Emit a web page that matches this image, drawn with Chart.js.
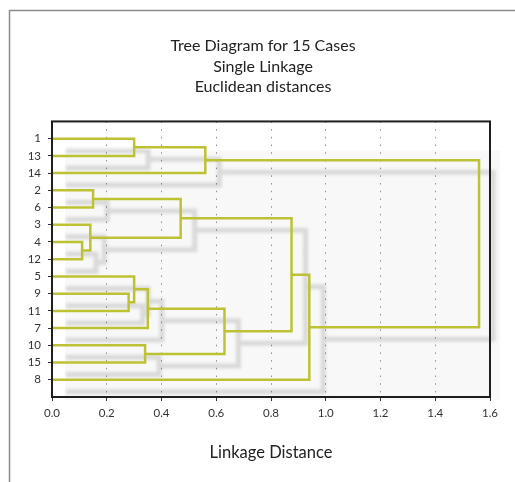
<!DOCTYPE html>
<html>
<head>
<meta charset="utf-8">
<script src="https://cdn.jsdelivr.net/npm/chart.js@4/dist/chart.umd.min.js"></script>
<style>
  html, body { margin: 0; padding: 0; background: #ffffff; }
  #wrap { width: 515px; height: 482px; position: relative; }
  canvas { display: block; background: #ffffff; }
</style>
</head>
<body>
<div id="wrap"><canvas id="c" width="515" height="482"></canvas></div>
<script>
// ---- Data ----
// Leaves in the order they appear from top to bottom
const caseLabels = ["1", "13", "14", "2", "6", "3", "4", "12", "5", "9", "11", "7", "10", "15", "8"];
// Merge steps: node ids 0..14 are leaves (display order), merge k creates node 15 + k
const mergeLeft     = [6, 5, 3, 9, 0, 8, 12, 20, 17, 19, 22, 23, 26, 24];
const mergeRight    = [7, 15, 4, 10, 1, 18, 13, 11, 16, 2, 21, 25, 14, 27];
const mergeDistance = [0.11, 0.14, 0.15, 0.28, 0.30, 0.30, 0.34, 0.35, 0.47, 0.56, 0.63, 0.875, 0.94, 1.56];
const xTickValues   = [0.0, 0.2, 0.4, 0.6, 0.8, 1.0, 1.2, 1.4, 1.6];
const titleLines    = ["Tree Diagram for 15 Cases", "Single Linkage", "Euclidean distances"];
const xAxisTitle    = "Linkage Distance";

// ---- Build dendrogram link datasets ----
const nodeY = caseLabels.map((_, i) => i + 1);
const nodeH = caseLabels.map(() => 0);
const datasets = [];
mergeDistance.forEach((d, k) => {
  const a = mergeLeft[k], b = mergeRight[k];
  datasets.push({
    data: [
      { x: nodeH[a], y: nodeY[a] },
      { x: d, y: nodeY[a] },
      { x: d, y: nodeY[b] },
      { x: nodeH[b], y: nodeY[b] }
    ]
  });
  nodeY.push((nodeY[a] + nodeY[b]) / 2);
  nodeH.push(d);
});

const LINE = '#bdc235';
const FONT = 'Lato, "Open Sans", sans-serif';

const decorPlugin = {
  id: 'decor',
  beforeDraw(chart) {
    const { ctx, chartArea: ca } = chart;
    ctx.save();
    // outer chart frame (left & top)
    ctx.strokeStyle = '#8c8c8c';
    ctx.lineWidth = 1.5;
    ctx.beginPath();
    ctx.moveTo(9.5, chart.height);
    ctx.lineTo(9.5, 10.5);
    ctx.lineTo(chart.width, 10.5);
    ctx.stroke();
    // light shadow panel behind the tree
    ctx.fillStyle = '#f8f8f8';
    ctx.fillRect(ca.left + 13, ca.top + 29, ca.right - ca.left - 3, ca.bottom - ca.top - 26);
    ctx.restore();
  },
  beforeDatasetsDraw(chart) {
    const { ctx } = chart;
    ctx.save();
    ctx.strokeStyle = 'rgba(0,0,0,0.12)';
    ctx.lineWidth = 5;
    ctx.lineJoin = 'miter';
    ctx.filter = 'blur(1.5px)';
    ctx.beginPath();
    chart.data.datasets.forEach((ds, i) => {
      const pts = chart.getDatasetMeta(i).data;
      pts.forEach((p, j) => {
        if (j === 0) ctx.moveTo(p.x + 14, p.y + 12);
        else ctx.lineTo(p.x + 14, p.y + 12);
      });
    });
    ctx.stroke();
    ctx.restore();
  },
  afterDatasetsDraw(chart) {
    const { ctx, chartArea: ca } = chart;
    ctx.save();
    ctx.strokeStyle = '#1e1e1e';
    ctx.lineWidth = 2;
    ctx.strokeRect(ca.left, ca.top, ca.right - ca.left, ca.bottom - ca.top);
    ctx.restore();
  }
};

new Chart(document.getElementById('c'), {
  type: 'scatter',
  data: {
    datasets: datasets.map(ds => Object.assign(ds, {
      showLine: true,
      borderColor: LINE,
      borderWidth: 2.5,
      pointRadius: 0,
      pointHoverRadius: 0,
      fill: false,
      tension: 0,
      borderJoinStyle: 'miter'
    }))
  },
  options: {
    responsive: false,
    devicePixelRatio: 1,
    animation: false,
    events: [],
    layout: { padding: { left: 11, right: 0, top: 0, bottom: 0 } },
    plugins: {
      legend: { display: false },
      tooltip: { enabled: false },
      title: {
        display: true,
        text: titleLines,
        color: '#222222',
        font: { family: FONT, size: 16, weight: 'normal', lineHeight: 1.28 },
        padding: { top: 36, bottom: 24 }
      }
    },
    scales: {
      x: {
        type: 'linear',
        min: 0,
        max: 1.6,
        afterBuildTicks: (s) => { s.ticks = xTickValues.map(v => ({ value: v })); },
        afterFit: (s) => { s.height = 85; s.paddingLeft = 0; s.paddingRight = 0; },
        ticks: {
          callback: (v) => Number(v).toFixed(1),
          color: '#333333',
          font: { family: FONT, size: 11.5 },
          padding: 5,
          maxRotation: 0,
          autoSkip: false
        },
        grid: {
          drawOnChartArea: true,
          drawTicks: true,
          tickLength: 4,
          tickColor: '#333333',
          tickWidth: 1,
          lineWidth: 1,
          borderDash: [1.5, 6.2],
          tickBorderDash: [],
          color: (c) => (c.tick && (c.tick.value === 0 || c.tick.value === 1.6)) ? 'rgba(0,0,0,0)' : '#8f8f8f'
        },
        border: { display: false, dash: [1.5, 6.2] },
        title: {
          display: true,
          text: xAxisTitle,
          color: '#222222',
          font: { family: FONT, size: 16.5 },
          padding: { top: 0, bottom: 19 }
        }
      },
      y: {
        type: 'linear',
        position: 'left',
        min: 0,
        max: 16,
        reverse: true,
        afterBuildTicks: (s) => { s.ticks = caseLabels.map((_, i) => ({ value: i + 1 })); },
        afterFit: (s) => { s.width = 41; s.paddingTop = 0; s.paddingBottom = 0; },
        ticks: {
          callback: (v) => caseLabels[v - 1],
          color: '#333333',
          font: { family: FONT, size: 11.5 },
          padding: 7,
          autoSkip: false
        },
        grid: {
          drawOnChartArea: false,
          drawTicks: true,
          tickLength: 4,
          tickColor: '#333333',
          tickWidth: 1
        },
        border: { display: false }
      },
      yRightSpace: {
        type: 'linear',
        position: 'right',
        display: true,
        afterFit: (s) => { s.width = 25; s.paddingTop = 0; s.paddingBottom = 0; },
        ticks: { display: false },
        grid: { display: false, drawOnChartArea: false, drawTicks: false },
        border: { display: false }
      }
    }
  },
  plugins: [decorPlugin]
});
</script>
</body>
</html>
